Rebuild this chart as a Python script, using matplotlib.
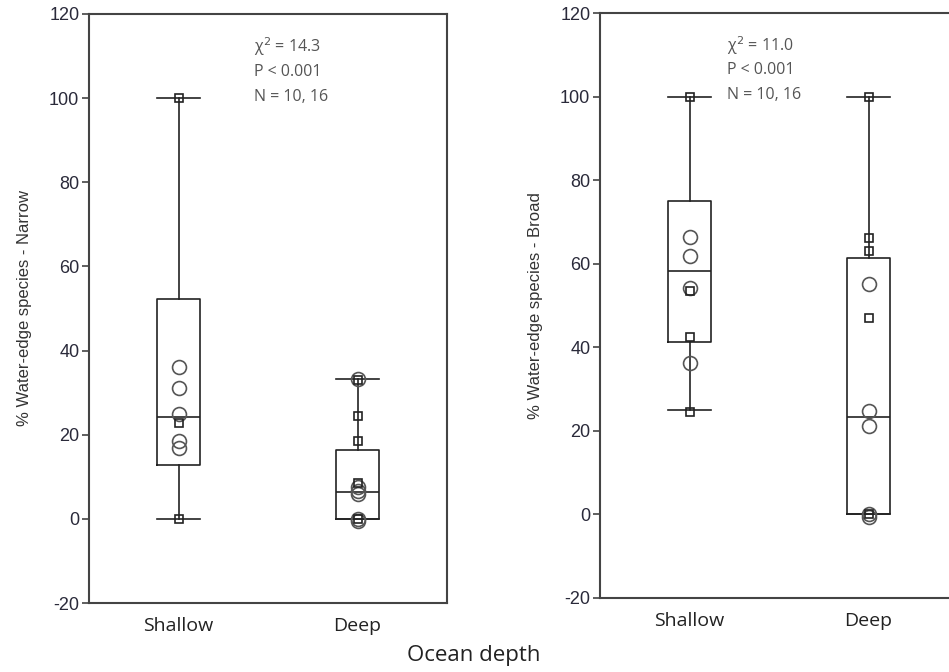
import numpy as np
import matplotlib
matplotlib.use("Agg")
import matplotlib.pyplot as plt

groups = ['Shallow', 'Deep']
yticks = [-20, 0, 20, 40, 60, 80, 100, 120]

# Narrow panel: box statistics
narrow_q1 = [12.7, 0.0]
narrow_med = [24.1, 6.4]
narrow_q3 = [52.2, 16.4]
narrow_lo = [0.0, 0.0]
narrow_hi = [100.0, 33.2]
narrow_circles = [[36.2, 31.1, 25.0, 18.6, 16.8],
                  [33.2, 7.5, 6.6, 5.8, 0.0, -0.5]]
narrow_squares = [[100.0, 22.7, 0.0],
                  [33.0, 24.4, 18.5, 8.6, 0.0]]

# Broad panel
broad_q1 = [41.2, 0.0]
broad_med = [58.3, 23.3]
broad_q3 = [74.9, 61.3]
broad_lo = [24.9, 0.0]
broad_hi = [100.0, 100.0]
broad_circles = [[66.4, 61.9, 54.3, 36.3],
                 [55.2, 24.7, 21.1, 0.0, -0.5]]
broad_squares = [[100.0, 53.4, 42.5, 24.6],
                 [100.0, 66.2, 63.0, 47.0, 0.0]]

notes = [['χ$^2$ = 14.3', 'P < 0.001', 'N = 10, 16'],
         ['χ$^2$ = 11.0', 'P < 0.001', 'N = 10, 16']]
ylabels = ['% Water-edge species - Narrow', '% Water-edge species - Broad']

fig = plt.figure(figsize=(9.49, 6.72), dpi=100)
ax1 = fig.add_axes([89/949, 1-603/672, 358/949, 589/672])
ax2 = fig.add_axes([600/949, 1-598/672, 358/949, 585/672])

panels = [
    (ax1, narrow_q1, narrow_med, narrow_q3, narrow_lo, narrow_hi, narrow_circles, narrow_squares),
    (ax2, broad_q1, broad_med, broad_q3, broad_lo, broad_hi, broad_circles, broad_squares),
]

for i, (ax, q1, med, q3, lo, hi, circ, sq) in enumerate(panels):
    stats = []
    for j in range(2):
        stats.append(dict(med=med[j], q1=q1[j], q3=q3[j], whislo=lo[j], whishi=hi[j], fliers=[]))
    ax.bxp(stats, positions=[1, 2], widths=0.24, capwidths=0.24, showfliers=False,
           boxprops=dict(color='#222222', linewidth=1.2),
           medianprops=dict(color='#222222', linewidth=1.2),
           whiskerprops=dict(color='#222222', linewidth=1.2),
           capprops=dict(color='#222222', linewidth=1.2))
    for j in range(2):
        ax.plot([j + 1] * len(circ[j]), circ[j], 'o', mfc='none', mec='#555555',
                ms=10, mew=1.2, zorder=3)
        ax.plot([j + 1] * len(sq[j]), sq[j], 's', mfc='none', mec='#222222',
                ms=6, mew=1.2, zorder=3)
    ax.set_xlim(0.5, 2.5)
    ax.set_ylim(-20, 120)
    ax.set_yticks(yticks)
    ax.set_yticklabels([str(t) for t in yticks], fontsize=13, color='#2a2a3a',
                       family='Liberation Sans')
    ax.set_xticks([1, 2])
    ax.set_xticklabels(groups, fontsize=14, color='#222222', family='Open Sans')
    ax.tick_params(axis='x', length=0, pad=10)
    ax.tick_params(axis='y', length=5, width=1.2, color='#444444', pad=2)
    for s in ax.spines.values():
        s.set_color('#444444')
        s.set_linewidth(1.5)
    ax.set_ylabel(ylabels[i], fontsize=12, color='#333333', family='Liberation Sans',
                  labelpad=12)
    for k, line in enumerate(notes[i]):
        ax.text(0.46 if i == 0 else 0.355, 0.945 - k * 0.043, line, transform=ax.transAxes,
                fontsize=11.5, color='#555555', family='Open Sans', va='center')

fig.text(474/949, 1-655/672, 'Ocean depth', fontsize=16, color='#222222',
         family='Open Sans', ha='center', va='center')

fig.savefig('out.png', dpi=100)
